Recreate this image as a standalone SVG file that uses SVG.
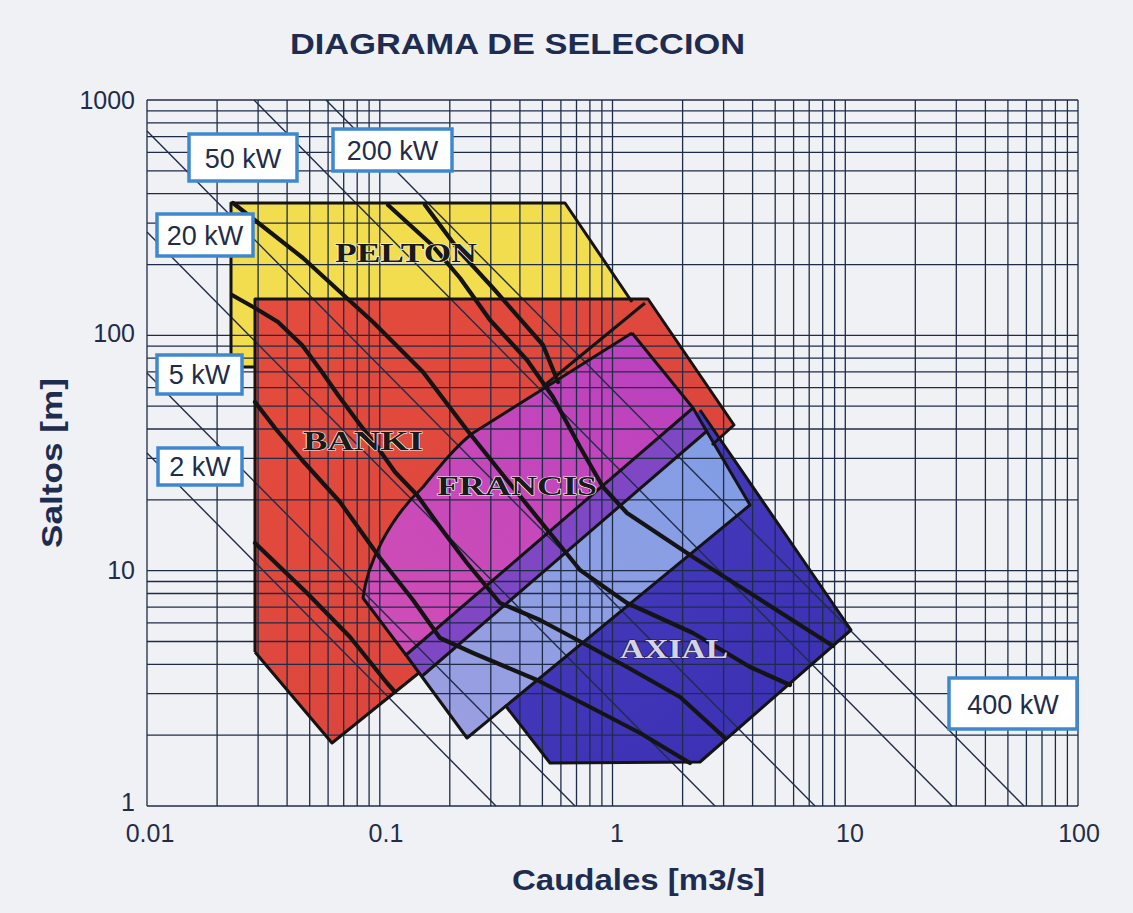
<svg xmlns="http://www.w3.org/2000/svg" width="1133" height="913" viewBox="0 0 1133 913">
<defs>
<style>
.grid{fill:none;stroke:#1f2c48;stroke-width:1.3}
.pw{fill:none;stroke:#1f2c48;stroke-width:1.4}
.thick{fill:none;stroke:#141414;stroke-width:4.2;stroke-linejoin:round;stroke-linecap:round}
.edge{fill:none;stroke:#141414;stroke-width:3;stroke-linejoin:round}
.box{fill:#ffffff;stroke:#3f88d0;stroke-width:3.5}
.kw{font-family:"Liberation Sans",Arial,sans-serif;font-size:27px;fill:#1f2d4a;text-anchor:middle}
.tick{font-family:"Liberation Sans",Arial,sans-serif;font-size:25px;fill:#1f2d4a}
.axis{font-family:"Liberation Sans",Arial,sans-serif;font-size:30px;font-weight:bold;fill:#1d2c50}
.reg{font-family:"Liberation Serif","Times New Roman",serif;font-size:27px;font-weight:bold;fill:#1a1a1a;stroke:#f4f4f4;stroke-width:1.2;paint-order:stroke}
.regw{font-family:"Liberation Serif","Times New Roman",serif;font-size:27px;font-weight:bold;fill:#d4d4e4;stroke:#1c1c3a;stroke-width:1.2;paint-order:stroke}
</style>
<linearGradient id="gRed" x1="0" y1="0" x2="1" y2="1">
<stop offset="0" stop-color="#e44c3c"/><stop offset="1" stop-color="#d8423c"/>
</linearGradient>
<linearGradient id="gMag" x1="0" y1="1" x2="1" y2="0">
<stop offset="0" stop-color="#d450b4"/><stop offset="1" stop-color="#b63fc0"/>
</linearGradient>
<linearGradient id="gLav" x1="0" y1="1" x2="1" y2="0">
<stop offset="0" stop-color="#9c9fe0"/><stop offset="1" stop-color="#7f9de6"/>
</linearGradient>
<linearGradient id="gAx" x1="0" y1="0" x2="1" y2="1">
<stop offset="0" stop-color="#4a3cc0"/><stop offset="1" stop-color="#3a30b2"/>
</linearGradient>
</defs>

<rect x="0" y="0" width="1133" height="913" fill="#f0f1f4"/>

<g id="regions-fill">
<g id="pelton-fill"><polygon points="231,203 565,203 640,312 257,312 257,367 231,367" fill="#f2dd4e"/></g>
<g id="banki-fill"><polygon points="255,299 648,299 734,425 712,445 420,672 332,743 255,652" fill="url(#gRed)"/></g>
<g id="francis-fill"><path d="M632,333 L693,408 L750,505 L467,738 L363,598 C367,565 388,520 423,487 C440,466 455,447 473,433 Z" fill="url(#gMag)"/></g>
<g id="axial-fill"><polygon points="700,410 851,630 700,762 550,763 505,705 430,660" fill="url(#gAx)"/></g>
<g id="overlap-fill"><polygon points="693,408 750,505 467,738 406,655" fill="url(#gLav)"/>
<polygon points="406,655 693,408 707,431 421,677" fill="#7f47c4"/></g>
</g>

<g id="grid">
<path class="grid" d="M147 100V806M217.1 100V806M258.1 100V806M287.1 100V806M309.7 100V806M328.1 100V806M343.7 100V806M357.2 100V806M369.1 100V806M379.8 100V806M449.8 100V806M490.8 100V806M519.9 100V806M542.4 100V806M560.9 100V806M576.5 100V806M589.9 100V806M601.9 100V806M612.5 100V806M682.6 100V806M723.6 100V806M752.6 100V806M775.2 100V806M793.6 100V806M809.2 100V806M822.7 100V806M834.6 100V806M845.3 100V806M915.3 100V806M956.3 100V806M985.4 100V806M1007.9 100V806M1026.4 100V806M1042 100V806M1055.4 100V806M1067.4 100V806M1078 100V806"/>
<path class="grid" d="M147 806H1078M147 735.2H1078M147 693.7H1078M147 664.3H1078M147 641.5H1078M147 622.9H1078M147 607.2H1078M147 593.5H1078M147 581.5H1078M147 570.7H1078M147 499.9H1078M147 458.4H1078M147 429H1078M147 406.2H1078M147 387.6H1078M147 371.9H1078M147 358.2H1078M147 346.2H1078M147 335.4H1078M147 264.6H1078M147 223.1H1078M147 193.7H1078M147 170.9H1078M147 152.3H1078M147 136.6H1078M147 122.9H1078M147 110.9H1078M147 100H1078"/>
</g>

<g id="power-lines">
<path class="pw" d="M147,453 L496,806"/>
<path class="pw" d="M147,373 L575,806"/>
<path class="pw" d="M147,232 L715,806"/>
<path class="pw" d="M147,131 L815,806"/>
<path class="pw" d="M254,100 L952,806"/>
<path class="pw" d="M326,100 L1024,806"/>
</g>

<g id="connectors">
<g id="outlines">
<path class="edge" d="M231,367 L231,203 L565,203 L632,302 M231,367 L255,367"/>
<path class="edge" d="M255,652 L255,299 L648,299 L734,425 L712,445 M420,672 L332,743 L255,652"/>
<path class="edge" d="M645,303 L545,385"/>
<path class="edge" d="M632,333 L693,408 M632,333 L473,433 C455,447 440,466 423,487 C388,520 367,565 363,598 L406,655"/>
<polygon class="edge" points="693,408 750,505 467,738 406,655"/>
<path class="edge" d="M421,677 L707,431"/>
<path class="edge" d="M700,410 L851,630 L700,762 L550,763 L505,705"/>
</g>
<g id="thick-lines">
<polyline class="thick" points="233,203 303,258 373,322 423,372 467,430 507,480 550,533 580,570 627,603 693,633 750,667 790,685"/>
<polyline class="thick" points="388,205 432,245 460,278 490,320 527,360 553,397 580,447 603,487 627,513 693,557 750,593 833,646"/>
<polyline class="thick" points="425,205 460,252 493,288 543,345 558,382"/>
<polyline class="thick" points="232,295 255,308 278,322 302,345 322,372 338,395 358,422 378,448 395,472 417,495 440,527 467,563 500,603 540,620 583,643 627,667 680,697 725,738"/>
<polyline class="thick" points="255,402 275,428 302,460 340,502 380,558 413,600 440,638 473,653 537,680 590,707 640,733 690,763"/>
<polyline class="thick" points="255,543 307,593 350,637 387,683 395,692"/>
</g>
</g>

<g id="region-labels">
<text class="reg" x="335" y="262" textLength="142" lengthAdjust="spacingAndGlyphs">PELTON</text>
<text class="reg" x="303" y="450" textLength="120" lengthAdjust="spacingAndGlyphs">BANKI</text>
<text class="reg" x="437" y="495" textLength="160" lengthAdjust="spacingAndGlyphs">FRANCIS</text>
<text class="regw" x="620" y="658" textLength="108" lengthAdjust="spacingAndGlyphs">AXIAL</text>
</g>

<g id="label-50kW"><rect class="box" x="189" y="134" width="108" height="47"/><text class="kw" x="243" y="168">50 kW</text></g>
<g id="label-200kW"><rect class="box" x="333" y="129" width="119" height="42"/><text class="kw" x="392.5" y="160">200 kW</text></g>
<g id="label-20kW"><rect class="box" x="157" y="214" width="96" height="42"/><text class="kw" x="205" y="245">20 kW</text></g>
<g id="label-5kW"><rect class="box" x="157" y="355" width="85" height="39"/><text class="kw" x="199.5" y="384">5 kW</text></g>
<g id="label-2kW"><rect class="box" x="158" y="448" width="84" height="37"/><text class="kw" x="200" y="476">2 kW</text></g>
<g id="label-400kW"><rect class="box" x="949" y="678" width="128" height="51"/><text class="kw" x="1013" y="714">400 kW</text></g>

<g id="axes-text">
<text class="tick" x="135" y="109" text-anchor="end">1000</text>
<text class="tick" x="135" y="342" text-anchor="end">100</text>
<text class="tick" x="135" y="579" text-anchor="end">10</text>
<text class="tick" x="135" y="811" text-anchor="end">1</text>
<text class="tick" x="150" y="842" text-anchor="middle">0.01</text>
<text class="tick" x="386" y="842" text-anchor="middle">0.1</text>
<text class="tick" x="617" y="842" text-anchor="middle">1</text>
<text class="tick" x="850" y="842" text-anchor="middle">10</text>
<text class="tick" x="1079" y="842" text-anchor="middle">100</text>
<text class="axis" x="512" y="890" textLength="253" lengthAdjust="spacingAndGlyphs">Caudales [m3/s]</text>
<text class="axis" transform="translate(62,548) rotate(-90)" x="0" y="0" textLength="170" lengthAdjust="spacingAndGlyphs">Saltos [m]</text>
<text class="axis" x="290" y="54" font-size="33" textLength="455" lengthAdjust="spacingAndGlyphs">DIAGRAMA DE SELECCION</text>
</g>
</svg>
